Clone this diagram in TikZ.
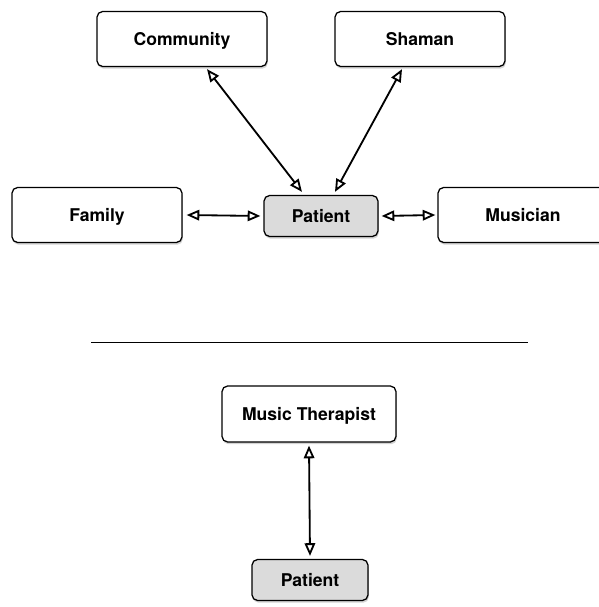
\documentclass[tikz,border=0pt]{standalone}
\usepackage{fontspec}
\setmainfont{TeX Gyre Heros}
\usetikzlibrary{arrows.meta,shadows,calc}

\begin{document}
\begin{tikzpicture}[line width=0.9pt,
        box/.style={draw, rounded corners=4pt, fill=white, minimum width=4.25cm,
            minimum height=1.375cm, font=\fontsize{12.5}{14}\selectfont\bfseries,
            text height=2.2ex, text depth=0.5ex, inner sep=0pt,
            drop shadow={shadow xshift=0.6pt, shadow yshift=-1.6pt, opacity=0.35}},
        patientbox/.style={box, fill=black!14, minimum width=2.85cm, minimum height=1.025cm},
        link/.style={line width=1.3pt, {Triangle[open,length=9pt,width=7.5pt]}-{Triangle[open,length=9pt,width=7.5pt]}}]
                \useasboundingbox (0,0) rectangle (14.975,15.175);

                \node[box] (community) at (4.55,14.2) {Community};
                \node[box] (shaman) at (10.5,14.2) {Shaman};
                \node[box] (family) at (2.425,9.8) {Family};
                \node[patientbox] (patient) at (8.025,9.775) {Patient};
                \node[box] (musician) at (13.075,9.8) {Musician};

                \draw[link] ($(community.south)+(0.625,-0.05)$) -- ($(patient.north)+(-0.475,0.075)$);
                \draw[link] ($(shaman.south)+(-0.45,-0.05)$) -- ($(patient.north)+(0.35,0.075)$);
                \draw[link] ($(family.east)+(0.1,0)$) -- ($(patient.west)+(-0.075,0)$);
                \draw[link] ($(patient.east)+(0.075,0)$) -- ($(musician.west)+(-0.05,0)$);

                \coordinate (lineL) at (2.275,6.625);
                \coordinate (lineR) at (13.2,6.625);
                \draw[line width=0.4pt] (lineL) -- (lineR);

                \node[box, minimum width=4.35cm, minimum height=1.4cm] (therapist) at (7.725,4.825) {Music Therapist};
                \node[patientbox, minimum width=2.9cm] (patient2) at (7.75,0.675) {Patient};

                \draw[link] ($(therapist.south)+(0,-0.075)$) -- ($(patient2.north)+(0,0.075)$);
            \end{tikzpicture}
\end{document}
